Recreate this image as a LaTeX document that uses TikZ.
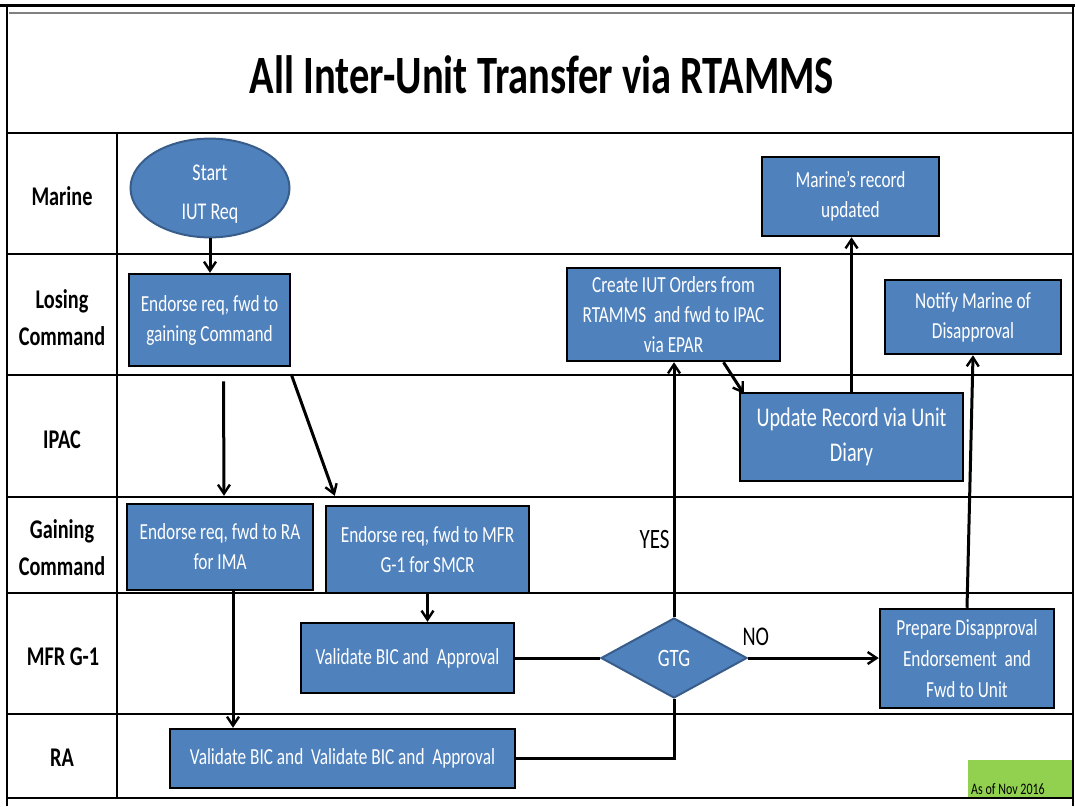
\documentclass[tikz,border=0pt]{standalone}
\usepackage{fontspec}
\setmainfont{Carlito}[FakeStretch=0.75]
\usetikzlibrary{arrows.meta,shapes.geometric}
\definecolor{boxblue}{HTML}{4F81BD}
\definecolor{rimblue}{HTML}{385D8A}
\definecolor{stampgreen}{HTML}{92D050}

\begin{document}
\begin{tikzpicture}[x=1pt,y=-1pt,
		>={Straight Barb[length=9pt,width=12pt,line width=2.4pt]},
		every node/.style={inner sep=0pt,align=center},
		lane/.style={line width=2pt},
		lanelabel/.style={font=\fontsize{27}{37}\selectfont\bfseries},
		taskbox/.style={rectangle,draw=black,line width=2.5pt,fill=boxblue,text=white,
			font=\fontsize{23}{30}\selectfont},
		flow/.style={->,line width=3pt},
		joint/.style={line width=3pt}]
		
		\useasboundingbox (0,0) rectangle (1075,806);
		
		\node[fill=stampgreen,minimum width=105pt,minimum height=38pt,anchor=north west] (stamp) at (968,760) {};
		\node[anchor=base west,font=\fontsize{16}{18}\selectfont] (asof) at (971,794) {As of Nov 2016};
		
		\draw[line width=3pt] (0,5) -- (1075,5);
		\draw[line width=1.5pt,gray] (9,13) -- (1073,13);
		\draw[lane] (7,5) -- (7,806);
		\draw[lane] (1073,5) -- (1073,806);
		\foreach \y in {133,254,375,497,593,714,798}
		\draw[lane] (7,\y) -- (1073,\y);
		\draw[lane] (117,133) -- (117,798);
		
		\node[anchor=base,font=\fontsize{54}{60}\selectfont\bfseries] (title) at (542,93) {All Inter-Unit Transfer via RTAMMS};
		
		\node[lanelabel] (lmarine) at (62,196) {Marine};
		\node[lanelabel] (llosing) at (62,318) {Losing\\Command};
		\node[lanelabel] (lipac) at (62,440) {IPAC};
		\node[lanelabel] (lgaining) at (62,548) {Gaining\\Command};
		\node[lanelabel] (lmfr) at (63,657) {MFR G-1};
		\node[lanelabel] (lra) at (62,758) {RA};
		
		\node[ellipse,draw=rimblue,line width=2pt,fill=boxblue,text=white,minimum width=159pt,minimum height=96pt,
			font=\fontsize{24}{39}\selectfont] (start) at (210,188) {\rule{0pt}{27pt}Start\\IUT Req};
		\node[taskbox,minimum width=161pt,minimum height=92pt] (lose) at (209.5,320) {Endorse req, fwd to\\gaining Command};
		\node[taskbox,minimum width=177pt,minimum height=79pt] (record) at (850.5,196.5) {Marine’s record\\updated};
		\node[taskbox,minimum width=213pt,minimum height=93pt] (orders) at (673.5,314.5) {Create IUT Orders from\\RTAMMS~ and fwd to IPAC\\via EPAR};
		\node[taskbox,minimum width=176pt,minimum height=74pt] (notify) at (973,317) {Notify Marine of\\Disapproval};
		\node[taskbox,minimum width=223pt,minimum height=88pt,font=\fontsize{27}{35}\selectfont] (update) at (851.5,437) {Update Record via Unit\\Diary};
		\node[taskbox,minimum width=186pt,minimum height=86pt] (gainra) at (220,547) {Endorse req, fwd to RA\\for IMA};
		\node[taskbox,minimum width=203pt,minimum height=87pt] (gainmfr) at (427.5,549.5) {Endorse req, fwd to MFR\\G-1 for SMCR};
		\node[taskbox,minimum width=213pt,minimum height=70pt] (valmfr) at (407.5,658) {Validate BIC and~ Approval};
		\node[diamond,aspect=1.8,draw=rimblue,line width=2pt,fill=boxblue,text=white,minimum width=146pt,minimum height=80pt,
			font=\fontsize{25}{30}\selectfont] (gtg) at (674,658) {GTG};
		\node[taskbox,minimum width=174pt,minimum height=99pt,font=\fontsize{23}{31}\selectfont] (prep) at (967,658.5) {Prepare Disapproval\\Endorsement~ and\\Fwd to Unit};
		\node[taskbox,minimum width=345pt,minimum height=59pt] (raval) at (342.5,758.5) {Validate BIC and~ Validate BIC and~ Approval};
		
		\draw[flow] (start.south) -- (start.south |- lose.north);
		\draw[flow] ([xshift=14pt,yshift=-14pt]lose.south) -- ([xshift=4pt,yshift=7pt]gainra.north);
		\draw[flow] ([yshift=-7pt]lose.south east) -- ([xshift=10pt,yshift=9pt]gainmfr.north west);
		\draw[flow] ([xshift=13pt]gainra.south) -- ([xshift=13pt]gainra.south |- raval.north);
		\draw[flow] (gainmfr.south) -- (gainmfr.south |- valmfr.north);
		\draw[joint] (valmfr.east) -- (gtg.west);
		\draw[joint] (raval.east) -| (gtg.south);
		\draw[flow] (gtg.north) -- (gtg.north |- orders.south) node[pos=0.27,anchor=base east,xshift=-3pt,font=\fontsize{28}{30}\selectfont] (yes) {YES};
		\draw[flow] (gtg.east) -- (gtg.east -| prep.west) node[pos=0,anchor=base west,yshift=13pt,xshift=-7pt,font=\fontsize{27}{30}\selectfont] (no) {NO};
		\draw[flow] ([xshift=50pt]orders.south) -- ([xshift=5pt,yshift=-2pt]update.north west);
		\draw[flow] (update.north) -- (update.north |- record.south);
		\draw[flow] (prep.north) -- (notify.south);
		\end{tikzpicture}
\end{document}
